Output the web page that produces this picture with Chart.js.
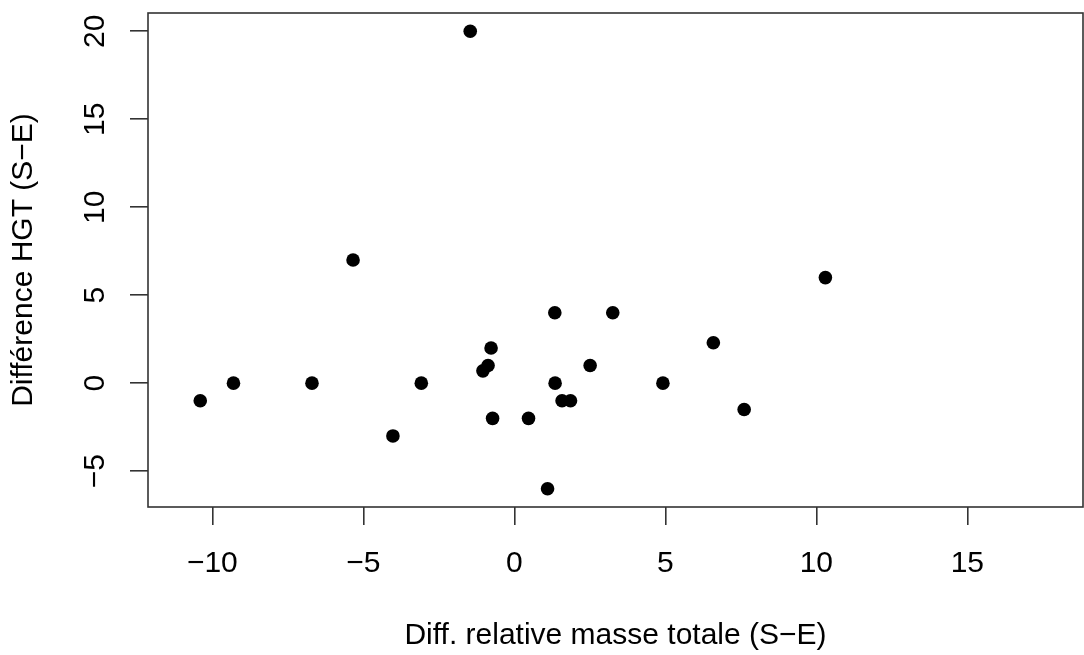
<!DOCTYPE html>
<html>
<head>
<meta charset="utf-8">
<script src="https://cdn.jsdelivr.net/npm/chart.js@4"></script>
<style>
  body { margin: 0; background: #fff; }
  canvas { display: block; }
</style>
</head>
<body>
<canvas id="graph" width="1084" height="655"></canvas>
<script>
// differences S-E
let xVals = [-1.46, -5.34, 10.3, 1.34, 3.26, 6.59, -0.77, -0.87, -1.04, 2.51, -9.30, -6.70, -3.08, 1.35, 4.92, -10.40, 1.58, 1.86, 7.61, -4.02, -0.72, 0.47, 1.10]
let yVals = [20, 7, 6, 4, 4, 2.3, 2, 1, 0.7, 1, 0, 0, 0, 0, 0, -1, -1, -1, -1.5, -3, -2, -2, -6]

let xTicks = [-10, -5, 0, 5, 10, 15]
let yTicks = [-5, 0, 5, 10, 15, 20]

let xTitle = "Diff. relative masse totale (S\u2212E)"
let yTitle = "Diff\u00e9rence HGT (S\u2212E)"

const fontFamily = "'Liberation Sans', Arial, sans-serif"
const axisColor = "#333"

function fmt(v) {
  return v < 0 ? "\u2212" + Math.abs(v) : String(v)
}

// box around the plot + rotated y tick labels (like R's las=0)
const rBox = {
  id: "rBox",
  afterDraw(chart) {
    const ctx = chart.ctx
    const a = chart.chartArea
    ctx.save()
    ctx.strokeStyle = axisColor
    ctx.lineWidth = 1.6
    ctx.strokeRect(a.left, a.top, a.right - a.left, a.bottom - a.top)

    const y = chart.scales.y
    ctx.fillStyle = "#000"
    ctx.font = "30px " + fontFamily
    ctx.textAlign = "center"
    ctx.textBaseline = "middle"
    yTicks.forEach(v => {
      ctx.save()
      ctx.translate(96, y.getPixelForValue(v))
      ctx.rotate(-Math.PI / 2)
      ctx.fillText(fmt(v), 0, 0)
      ctx.restore()
    })
    ctx.restore()
  }
}

new Chart(document.getElementById("graph"), {
  type: "scatter",
  data: {
    datasets: [{
      data: xVals.map((x, i) => ({ x: x, y: yVals[i] })),
      backgroundColor: "#000",
      borderColor: "#000",
      borderWidth: 0,
      pointRadius: 6.8,
      pointHoverRadius: 6.8
    }]
  },
  options: {
    responsive: false,
    animation: false,
    layout: {
      autoPadding: false,
      padding: { top: 13, right: 1, left: 0, bottom: 0 }
    },
    plugins: {
      legend: { display: false },
      tooltip: { enabled: false }
    },
    scales: {
      x: {
        type: "linear",
        min: -12.13,
        max: 18.83,
        afterBuildTicks: s => { s.ticks = xTicks.map(v => ({ value: v })) },
        afterFit: s => {
          s.height = 148
          s.paddingLeft = 0
          s.paddingRight = 0
        },
        border: { display: false },
        grid: {
          drawOnChartArea: false,
          drawTicks: true,
          tickLength: 18,
          color: axisColor,
          lineWidth: 1.6
        },
        ticks: {
          color: "#000",
          padding: 21,
          maxRotation: 0,
          font: { family: fontFamily, size: 30 },
          callback: v => fmt(v)
        },
        title: {
          display: true,
          text: xTitle,
          color: "#000",
          font: { family: fontFamily, size: 30 },
          padding: { top: 0, bottom: 1 }
        }
      },
      y: {
        type: "linear",
        min: -7.04,
        max: 21.04,
        afterBuildTicks: s => { s.ticks = yTicks.map(v => ({ value: v })) },
        afterFit: s => {
          s.width = 148
          s.paddingTop = 0
          s.paddingBottom = 0
        },
        border: { display: false },
        grid: {
          drawOnChartArea: false,
          drawTicks: true,
          tickLength: 18,
          color: axisColor,
          lineWidth: 1.6
        },
        ticks: { display: false },
        title: {
          display: true,
          text: yTitle,
          color: "#000",
          font: { family: fontFamily, size: 30 },
          padding: { top: 6, bottom: 0 }
        }
      }
    }
  },
  plugins: [rBox]
});
</script>
</body>
</html>
